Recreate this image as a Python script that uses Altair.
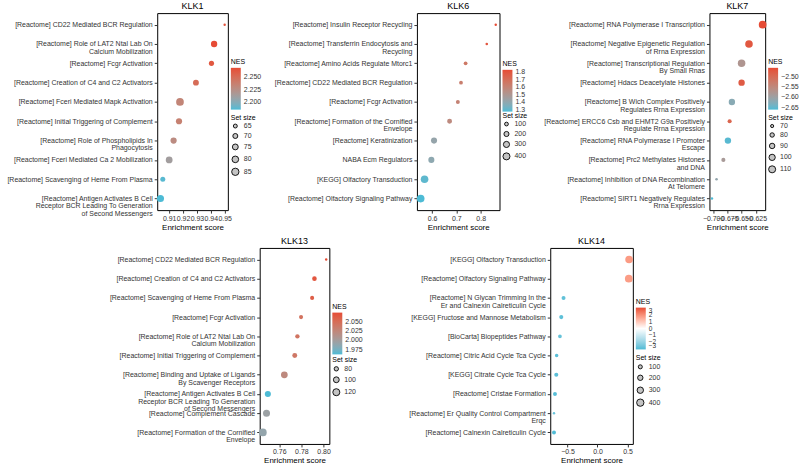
import altair as alt
import pandas as pd

FONT = "Liberation Sans"
LOW = "#4DBBD5"
HIGH = "#E64B35"

# ---------------- KLK1 ----------------
klk1_terms = [
    "[Reactome] CD22 Mediated BCR Regulation",
    "[Reactome] Role of LAT2 Ntal Lab On|Calcium Mobilization",
    "[Reactome] Fcgr Activation",
    "[Reactome] Creation of C4 and C2 Activators",
    "[Reactome] Fceri Mediated Mapk Activation",
    "[Reactome] Initial Triggering of Complement",
    "[Reactome] Role of Phospholipids In|Phagocytosis",
    "[Reactome] Fceri Mediated Ca 2 Mobilization",
    "[Reactome] Scavenging of Heme From Plasma",
    "[Reactome] Antigen Activates B Cell|Receptor BCR Leading To Generation|of Second Messengers",
]
klk1_es = [0.9500, 0.9424, 0.9405, 0.9293, 0.9178, 0.9171, 0.9132, 0.9100, 0.9054, 0.9037]
klk1_nes = [2.264, 2.268, 2.262, 2.250, 2.233, 2.236, 2.228, 2.213, 2.188, 2.186]
klk1_size = [60, 78, 71, 75, 88, 77, 77, 81, 70, 84]
klk1_xticks = [0.91, 0.92, 0.93, 0.94, 0.95]
klk1_nes_ticks = [2.200, 2.225, 2.250]
klk1_size_ticks = [65, 70, 75, 80, 85]

# ---------------- KLK6 ----------------
klk6_terms = [
    "[Reactome] Insulin Receptor Recycling",
    "[Reactome] Transferrin Endocytosis and|Recycling",
    "[Reactome] Amino Acids Regulate Mtorc1",
    "[Reactome] CD22 Mediated BCR Regulation",
    "[Reactome] Fcgr Activation",
    "[Reactome] Formation of the Cornified|Envelope",
    "[Reactome] Keratinization",
    "NABA Ecm Regulators",
    "[KEGG] Olfactory Transduction",
    "[Reactome] Olfactory Signaling Pathway",
]
klk6_es = [0.862, 0.825, 0.738, 0.719, 0.706, 0.672, 0.608, 0.597, 0.569, 0.553]
klk6_nes = [1.835, 1.80, 1.66, 1.63, 1.61, 1.57, 1.42, 1.40, 1.30, 1.278]
klk6_size = [30, 36, 100, 100, 115, 186, 296, 290, 470, 484]
klk6_xticks = [0.6, 0.7, 0.8]
klk6_nes_ticks = [1.3, 1.4, 1.5, 1.6, 1.7, 1.8]
klk6_size_ticks = [100, 200, 300, 400]

# ---------------- KLK7 ----------------
klk7_terms = [
    "[Reactome] RNA Polymerase I Transcription",
    "[Reactome] Negative Epigenetic Regulation|of Rrna Expression",
    "[Reactome] Transcriptional Regulation|By Small Rnas",
    "[Reactome] Hdacs Deacetylate Histones",
    "[Reactome] B Wich Complex Positively|Regulates Rrna Expression",
    "[Reactome] ERCC6 Csb and EHMT2 G9a Positively|Regulate Rrna Expression",
    "[Reactome] RNA Polymerase I Promoter|Escape",
    "[Reactome] Prc2 Methylates Histones|and DNA",
    "[Reactome] Inhibition of DNA Recombination|At Telomere",
    "[Reactome] SIRT1 Negatively Regulates|Rrna Expression",
]
klk7_es = [-0.613, -0.637, -0.650, -0.650, -0.667, -0.671, -0.674, -0.682, -0.694, -0.702]
klk7_nes = [-2.455, -2.47, -2.575, -2.475, -2.62, -2.49, -2.655, -2.585, -2.61, -2.66]
klk7_size = [120, 118, 117, 101, 101, 77, 101, 77, 67, 66]
klk7_xticks = [-0.700, -0.675, -0.650, -0.625]
klk7_nes_ticks = [-2.65, -2.60, -2.55, -2.50]
klk7_size_ticks = [70, 80, 90, 100, 110]

# ---------------- KLK13 ----------------
klk13_terms = [
    "[Reactome] CD22 Mediated BCR Regulation",
    "[Reactome] Creation of C4 and C2 Activators",
    "[Reactome] Scavenging of Heme From Plasma",
    "[Reactome] Fcgr Activation",
    "[Reactome] Role of LAT2 Ntal Lab On|Calcium Mobilization",
    "[Reactome] Initial Triggering of Complement",
    "[Reactome] Binding and Uptake of Ligands|By Scavenger Receptors",
    "[Reactome] Antigen Activates B Cell|Receptor BCR Leading To Generation|of Second Messengers",
    "[Reactome] Complement Cascade",
    "[Reactome] Formation of the Cornified|Envelope",
]
klk13_es = [0.8024, 0.7918, 0.7897, 0.7797, 0.7764, 0.7740, 0.7646, 0.7497, 0.7485, 0.7452]
klk13_nes = [2.075, 2.068, 2.062, 2.045, 2.043, 2.040, 2.022, 1.962, 1.995, 1.990]
klk13_size = [63, 83, 77, 77, 80, 87, 115, 104, 120, 133]
klk13_xticks = [0.76, 0.78, 0.80]
klk13_nes_ticks = [1.975, 2.000, 2.025, 2.050]
klk13_size_ticks = [80, 100, 120]

# ---------------- KLK14 ----------------
klk14_terms = [
    "[KEGG] Olfactory Transduction",
    "[Reactome] Olfactory Signaling Pathway",
    "[Reactome] N Glycan Trimming In the|Er and Calnexin Calreticulin Cycle",
    "[KEGG] Fructose and Mannose Metabolism",
    "[BioCarta] Biopeptides Pathway",
    "[Reactome] Citric Acid Cycle Tca Cycle",
    "[KEGG] Citrate Cycle Tca Cycle",
    "[Reactome] Cristae Formation",
    "[Reactome] Er Quality Control Compartment|Erqc",
    "[Reactome] Calnexin Calreticulin Cycle",
]
klk14_es = [0.527, 0.522, -0.566, -0.604, -0.626, -0.681, -0.687, -0.709, -0.725, -0.725]
klk14_nes = [1.75, 1.72, -2.75, -2.80, -2.70, -2.85, -2.85, -2.90, -2.65, -2.95]
klk14_size = [440, 446, 95, 100, 80, 67, 98, 92, 13, 90]
klk14_xticks = [-0.5, 0.0, 0.5]
klk14_nes_ticks = [-3, -2, -1, 0, 1, 2, 3]
klk14_size_ticks = [100, 200, 300, 400]


def panel(name, terms, es, nes, sizes, xticks, xfmt, nes_ticks, nes_fmt,
          size_ticks, w, h, nes_y, size_y, diverging=False, min_extent=None):
    df = pd.DataFrame({"term": terms, "es": es, "nes": nes, "size": sizes})
    lo, hi = min(es), max(es)
    pad = 0.05 * (hi - lo)
    xscale = alt.Scale(domain=[lo - pad, hi + pad], nice=False, zero=False)
    if diverging:
        cscale = alt.Scale(domain=[-3, 0, 3], range=[LOW, "#FFFFFF", HIGH], interpolate="lab")
    else:
        cscale = alt.Scale(domain=[min(nes), max(nes)], range=[LOW, HIGH], interpolate="lab")
    sscale = alt.Scale(domain=[min(sizes), max(sizes)], range=[6, 60], zero=False)

    yaxis_kw = dict(
        title=None, labelExpr="split(datum.label, '|')", labelFontSize=7,
        labelLineHeight=7.4, labelLimit=400, tickSize=3, domain=False, grid=False,
        labelPadding=2, maxExtent=400,
    )
    if min_extent is not None:
        yaxis_kw["minExtent"] = min_extent

    return alt.Chart(df).mark_circle(opacity=1).encode(
        x=alt.X("es:Q", scale=xscale, axis=alt.Axis(
            title="Enrichment score", values=xticks, format=xfmt, labelFontSize=7,
            titleFontSize=8, tickSize=3, labelPadding=1, titlePadding=2, domain=False,
            grid=False, labelOverlap=False, labelFlush=False)),
        y=alt.Y("term:N", sort=terms, scale=alt.Scale(type="point", padding=0.6),
                axis=alt.Axis(**yaxis_kw)),
        color=alt.Color("nes:Q", scale=cscale, legend=alt.Legend(
            title="NES", orient="none", legendX=w + 3, legendY=nes_y, direction="vertical",
            gradientLength=42, gradientThickness=10, values=nes_ticks, format=nes_fmt,
            labelFontSize=6.5 if diverging else 7, titleFontSize=7, labelOverlap=False,
            titlePadding=3, gradientStrokeWidth=0, labelOffset=3)),
        size=alt.Size("size:Q", scale=sscale, legend=alt.Legend(
            title="Set size", orient="none", legendX=w + 3, legendY=size_y,
            values=size_ticks, symbolFillColor="#C4C4C4", symbolStrokeColor="black",
            symbolStrokeWidth=0.9, symbolType="circle", labelFontSize=7, titleFontSize=7,
            rowPadding=1, titlePadding=2, labelOffset=4)),
    ).properties(
        width=w, height=h,
        title=alt.TitleParams(name, fontSize=9, fontWeight="normal", offset=2,
                              anchor="middle", frame="group", color="black"),
    )


def res(c):
    return c.resolve_scale(x="independent", y="independent",
                           color="independent", size="independent")


p1 = panel("KLK1", klk1_terms, klk1_es, klk1_nes, klk1_size, klk1_xticks, ".2f",
           klk1_nes_ticks, ".3f", klk1_size_ticks, 71, 198, 45, 101, min_extent=157)
p6 = panel("KLK6", klk6_terms, klk6_es, klk6_nes, klk6_size, klk6_xticks, ".1f",
           klk6_nes_ticks, ".1f", klk6_size_ticks, 83, 198, 47, 99)
p7 = panel("KLK7", klk7_terms, klk7_es, klk7_nes, klk7_size, klk7_xticks, ".3f",
           klk7_nes_ticks, ".2f", klk7_size_ticks, 56, 198, 45, 101)
p13 = panel("KLK13", klk13_terms, klk13_es, klk13_nes, klk13_size, klk13_xticks, ".2f",
            klk13_nes_ticks, ".3f", klk13_size_ticks, 70, 197, 55, 109)
p14 = panel("KLK14", klk14_terms, klk14_es, klk14_nes, klk14_size, klk14_xticks, ".1f",
            klk14_nes_ticks, "d", klk14_size_ticks, 83, 197, 50, 107, diverging=True)

spacer = alt.Chart(pd.DataFrame({"v": [0]})).mark_point(opacity=0).encode(
    x=alt.value(0), y=alt.value(0)
).properties(width=1, height=1, view=alt.ViewBackground(strokeOpacity=0))

top = res(alt.hconcat(p1, res(alt.hconcat(p6, p7, spacing=211, bounds="flush")),
                      spacing=190, bounds="flush"))
bottom = res(alt.hconcat(spacer, res(alt.hconcat(p13, p14, spacing=222, bounds="flush")),
                         spacing=102, bounds="flush"))

chart = res(alt.vconcat(top, bottom, spacing=4)).properties(
    padding={"left": 0, "top": 0, "right": 0, "bottom": 0}
).configure(font=FONT).configure_view(
    stroke="black", strokeWidth=1
).configure_axis(
    labelFont=FONT, titleFont=FONT, labelColor="#333333", titleColor="black",
    tickColor="#333333", titleFontWeight="normal"
).configure_legend(
    labelFont=FONT, titleFont=FONT, titleFontWeight="normal", padding=0,
    labelColor="#333333", titleColor="black"
).configure_title(font=FONT)

chart.save("out.html", embed_options={"renderer": "svg", "actions": False})
